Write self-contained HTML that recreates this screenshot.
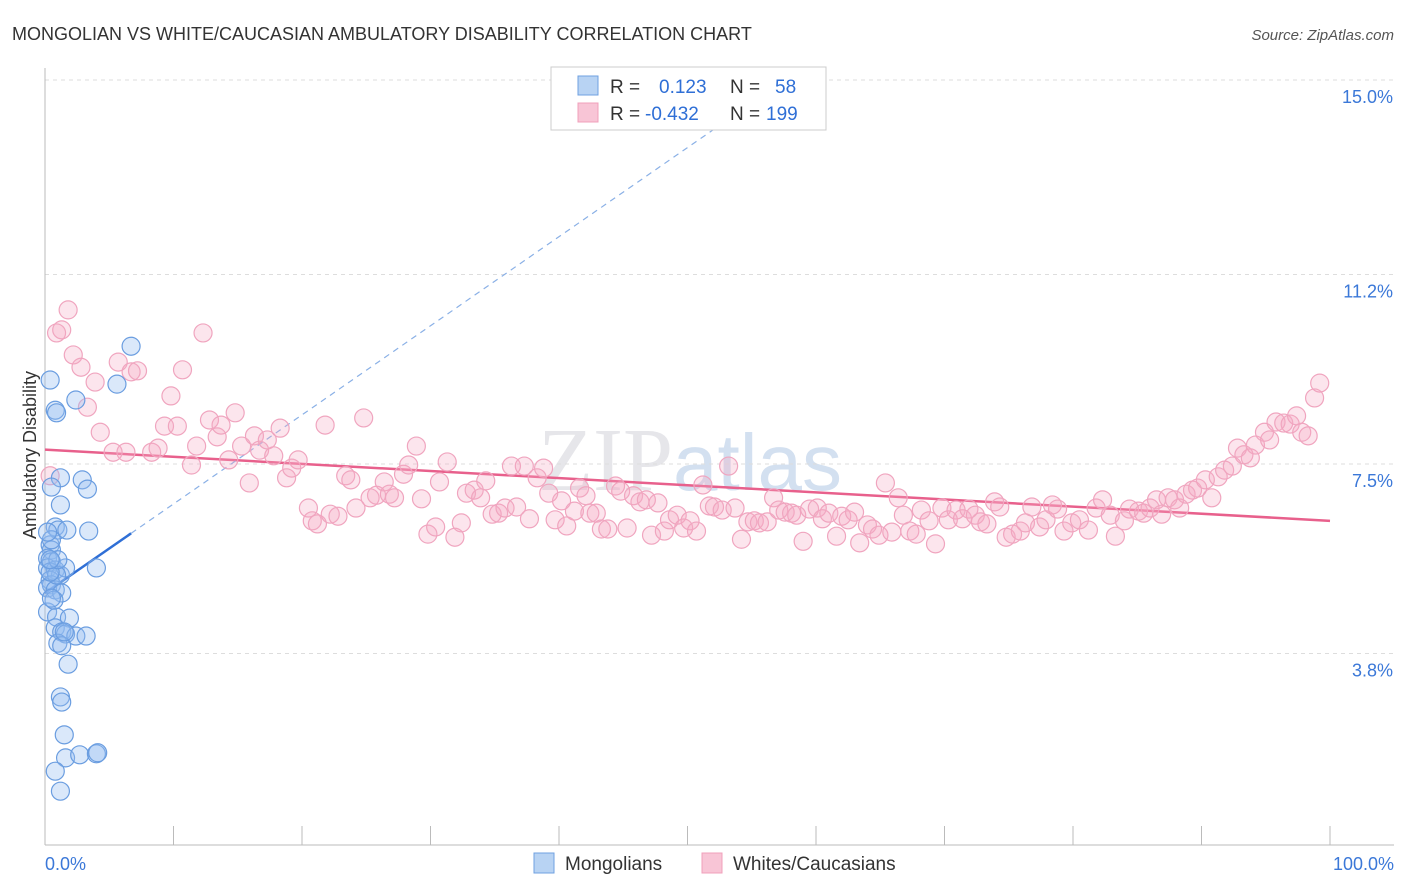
<!DOCTYPE html>
<html><head><meta charset="utf-8">
<style>
body{margin:0;background:#fff;font-family:"Liberation Sans",sans-serif;}
#wrap{position:relative;width:1406px;height:892px;overflow:hidden;}
</style></head>
<body>
<div id="wrap">
<svg id="chart" width="1406" height="892">
  <text x="12" y="40" font-size="18" fill="#333">MONGOLIAN VS WHITE/CAUCASIAN AMBULATORY DISABILITY CORRELATION CHART</text>
  <text x="1394" y="40" font-size="15" fill="#555" font-style="italic" text-anchor="end">Source: ZipAtlas.com</text>
  <text x="690" y="490" font-size="90" fill="#e6e6ea" text-anchor="middle" font-family="Liberation Serif,serif">ZIP<tspan fill="#d3e0f0" font-family="Liberation Sans,sans-serif" font-size="80">atlas</tspan></text>
  <text x="36" y="455" font-size="18" fill="#333" text-anchor="middle" transform="rotate(-90 36 455)">Ambulatory Disability</text>
  <g id="grid"></g><g id="axes"></g><g id="trends"></g><g id="pts"></g>
  <g>
    <rect x="551" y="67" width="275" height="63" fill="#fff" stroke="#ccc"/>
    <rect x="578" y="76" width="20" height="19" fill="#b8d3f3" stroke="#6fa0e0"/>
    <rect x="578" y="103" width="20" height="19" fill="#f8c5d6" stroke="#f0a0bb"/>
    <text x="610" y="93" font-size="19" fill="#333">R = <tspan x="659" fill="#2f6fd6">0.123</tspan><tspan x="730" fill="#333">N = </tspan><tspan x="775" fill="#2f6fd6">58</tspan></text>
    <text x="610" y="120" font-size="19" fill="#333">R = <tspan x="645" fill="#2f6fd6">-0.432</tspan><tspan x="730" fill="#333">N = </tspan><tspan x="766" fill="#2f6fd6">199</tspan></text>
  </g>
  <g>
    <rect x="534" y="853" width="20" height="20" fill="#b8d3f3" stroke="#6fa0e0"/>
    <text x="565" y="870" font-size="19" fill="#333">Mongolians</text>
    <rect x="702" y="853" width="20" height="20" fill="#f8c5d6" stroke="#f0a0bb"/>
    <text x="733" y="870" font-size="19" fill="#333">Whites/Caucasians</text>
  </g>
</svg>
</div>
<script>
const yTicks=[15.0,11.2,7.5,3.8];
const yTickLabels=["15.0%","11.2%","7.5%","3.8%"];
const xTickLabels=["0.0%","100.0%"];
const blueX=[0.4,0.8,0.9,2.4,5.6,6.7,1.2,0.5,2.9,3.3,1.2,0.8,1.0,1.7,3.4,0.4,0.5,0.2,0.5,0.2,0.8,1.2,1.6,4.0,0.4,0.5,0.2,0.8,1.3,0.2,0.9,1.9,0.8,1.3,1.6,2.4,3.2,1.0,1.3,1.8,1.2,1.3,1.5,1.6,2.7,4.0,4.1,0.8,1.2,0.5,0.9,0.4,0.7,1.5,0.2,0.5,1.0,0.4];
const blueY=[9.14,8.55,8.50,8.75,9.06,9.80,7.23,7.05,7.19,7.01,6.70,6.27,6.21,6.21,6.19,5.92,5.82,5.66,5.59,5.47,5.43,5.33,5.47,5.47,5.23,5.14,5.08,5.04,4.98,4.61,4.51,4.49,4.30,4.22,4.18,4.14,4.14,4.00,3.95,3.59,2.95,2.85,2.21,1.76,1.82,1.84,1.86,1.50,1.11,6.02,5.33,5.39,4.84,4.22,6.17,4.88,5.63,5.63];
const pinkX=[0.4,0.9,1.3,1.8,2.2,2.8,3.3,3.9,4.3,5.3,5.7,6.3,6.7,7.2,8.3,8.8,9.3,9.8,10.3,10.7,11.4,11.8,12.3,12.8,13.4,13.7,14.3,14.8,15.3,15.9,16.3,16.7,17.3,17.8,18.3,18.8,19.2,19.7,20.5,20.8,21.2,21.8,22.2,22.8,23.4,23.8,24.2,24.8,25.3,25.8,26.4,26.8,27.2,27.9,28.3,28.9,29.3,29.8,30.4,30.7,31.3,31.9,32.4,32.8,33.4,33.9,34.3,34.8,35.3,35.8,36.3,36.7,37.3,37.7,38.3,38.8,39.2,39.7,40.2,40.6,41.2,41.6,42.1,42.4,42.9,43.3,43.8,44.4,44.8,45.3,45.8,46.3,46.8,47.2,47.7,48.2,48.6,49.2,49.7,50.2,50.7,51.2,51.7,52.1,52.7,53.2,53.7,54.2,54.7,55.2,55.6,56.2,56.7,57.1,57.6,58.1,58.5,59.0,59.5,60.1,60.5,61.0,61.6,62.0,62.5,63.0,63.4,64.0,64.4,64.9,65.4,65.9,66.4,66.8,67.3,67.8,68.2,68.8,69.3,69.8,70.3,70.9,71.4,71.9,72.4,72.8,73.3,73.9,74.3,74.8,75.3,75.9,76.3,76.8,77.4,77.9,78.4,78.8,79.3,79.9,80.5,81.2,81.8,82.3,82.9,83.3,84.0,84.4,85.1,85.5,86.0,86.5,86.9,87.4,87.9,88.3,88.8,89.3,89.7,90.3,90.8,91.3,91.8,92.4,92.8,93.3,93.8,94.2,94.9,95.3,95.8,96.4,96.9,97.4,97.8,98.3,98.8,99.2];
const pinkY=[7.27,10.06,10.12,10.51,9.63,9.39,8.61,9.10,8.12,7.73,9.49,7.73,9.30,9.32,7.73,7.81,8.24,8.83,8.24,9.34,7.48,7.85,10.06,8.36,8.03,8.26,7.58,8.50,7.85,7.13,8.05,7.77,7.97,7.66,8.20,7.23,7.42,7.58,6.64,6.39,6.33,8.26,6.52,6.48,7.27,7.19,6.64,8.40,6.84,6.89,7.15,6.91,6.84,7.30,7.48,7.85,6.82,6.13,6.27,7.15,7.54,6.07,6.35,6.93,6.99,6.84,7.17,6.52,6.54,6.64,7.46,6.66,7.46,6.43,7.23,7.42,6.93,6.41,6.78,6.29,6.58,7.03,6.88,6.54,6.54,6.23,6.23,7.07,6.97,6.25,6.88,6.76,6.80,6.11,6.74,6.19,6.41,6.50,6.25,6.39,6.19,7.09,6.68,6.66,6.60,7.46,6.64,6.03,6.37,6.39,6.35,6.37,6.84,6.60,6.56,6.54,6.50,5.99,6.62,6.64,6.43,6.54,6.09,6.48,6.41,6.56,5.96,6.31,6.23,6.11,7.13,6.17,6.84,6.50,6.19,6.13,6.60,6.39,5.94,6.64,6.41,6.60,6.43,6.62,6.50,6.37,6.33,6.76,6.66,6.07,6.13,6.19,6.35,6.66,6.27,6.41,6.70,6.62,6.19,6.35,6.41,6.21,6.64,6.80,6.50,6.09,6.39,6.62,6.58,6.54,6.64,6.80,6.52,6.84,6.80,6.64,6.91,6.99,7.03,7.19,6.84,7.25,7.38,7.46,7.81,7.68,7.62,7.87,8.12,7.97,8.32,8.30,8.28,8.44,8.12,8.05,8.79,9.08];
const blueTrend=[4.98,0.174];   // intercept, slope per %
const pinkTrend=[7.78,-0.0139];

const NS="http://www.w3.org/2000/svg";
const X=p=>45+p*12.85;
const Y=v=>80+(15-v)*51.2;
function mk(tag,attrs,parent){const e=document.createElementNS(NS,tag);for(const k in attrs)e.setAttribute(k,attrs[k]);parent.appendChild(e);return e;}
const grid=document.getElementById('grid'),axes=document.getElementById('axes'),trends=document.getElementById('trends'),pts=document.getElementById('pts');
yTicks.forEach((t,i)=>{
  const l=mk('line',{x1:45,x2:1394,y1:Y(t),y2:Y(t),stroke:'#ddd','stroke-dasharray':'4 4'},grid);
  
  
  const tx=mk('text',{x:1393,y:Y(t)+23,'font-size':18,fill:'#3b78d8','text-anchor':'end'},grid);
  tx.textContent=yTickLabels[i];
  
  
});
const ax=mk('line',{x1:45,x2:1394,y1:845,y2:845,stroke:'#bbb'},axes);


const ay=mk('line',{x1:45,x2:45,y1:68,y2:845,stroke:'#bbb'},axes);


for(let i=0;i<=10;i++){
  const t=mk('line',{x1:X(i*10),x2:X(i*10),y1:826,y2:845,stroke:'#bbb'},axes);
  
  
}
[[0,'start',45],[100,'end',1394]].forEach((d,i)=>{
  const t=mk('text',{x:d[2],y:870,'font-size':18,fill:'#3b78d8','text-anchor':d[1]},axes);
  t.textContent=xTickLabels[i];
  
  
});
function drawPts(xs,ys,fill,stroke,name){
  xs.forEach((x,i)=>{
    const c=mk('circle',{cx:X(x),cy:Y(ys[i]),r:9,fill:fill,stroke:stroke,'stroke-width':1.2},pts);
    
    
  });
}
drawPts(pinkX,pinkY,'rgba(246,170,196,0.3)','#f0a5bf','white-caucasian-point');
drawPts(blueX,blueY,'rgba(150,190,240,0.35)','#6a9de0','mongolian-point');
const pl=mk('line',{x1:X(0),y1:Y(pinkTrend[0]),x2:X(100),y2:Y(pinkTrend[0]+pinkTrend[1]*100),stroke:'#e8608c','stroke-width':2.5},trends);


const bx=Math.max(...blueX);
const bl=mk('line',{x1:X(0),y1:Y(blueTrend[0]),x2:X(bx),y2:Y(blueTrend[0]+blueTrend[1]*bx),stroke:'#2f6fd6','stroke-width':2.5},trends);


const xe=(14.3-blueTrend[0])/blueTrend[1];
const bd=mk('line',{x1:X(bx),y1:Y(blueTrend[0]+blueTrend[1]*bx),x2:X(xe),y2:Y(blueTrend[0]+blueTrend[1]*xe),stroke:'#8ab0e6','stroke-width':1.2,'stroke-dasharray':'6 5'},trends);


</script>
</body></html>
